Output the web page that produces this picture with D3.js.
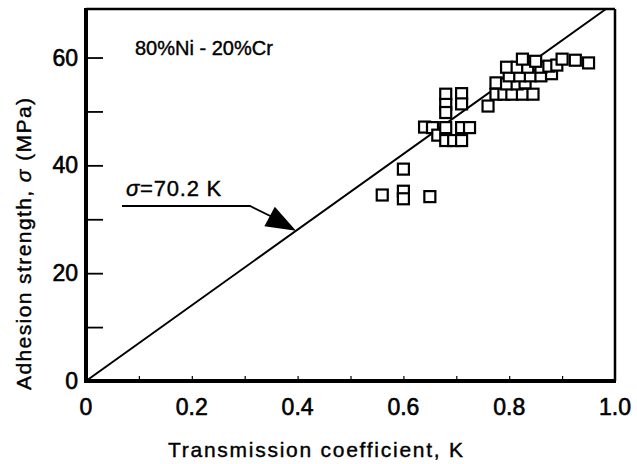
<!DOCTYPE html>
<html>
<head>
<meta charset="utf-8">
<script src="https://cdn.jsdelivr.net/npm/d3@7/dist/d3.min.js"></script>
<style>
  body { margin: 0; background: #fff; }
  text { font-family: "Liberation Sans", Arial, sans-serif; fill: #000; }
</style>
</head>
<body>
<div id="chart"></div>
<script>
// transmission coefficient K for each measured point
var kValues = [
    0.56, 0.60, 0.60, 0.60, 0.65,
    0.64, 0.655, 0.665, 0.68, 0.68, 0.68, 0.68, 0.68, 0.695, 0.71, 0.71, 0.71, 0.725, 0.71,
    0.76, 0.775, 0.79, 0.805, 0.825, 0.845, 0.775, 0.795, 0.815, 0.83,
    0.80, 0.82, 0.84, 0.86, 0.88, 0.795, 0.815, 0.835, 0.86, 0.875, 0.89,
    0.825, 0.85, 0.90, 0.925, 0.95
];
// adhesion strength sigma (MPa)
var sigmaValues = [
    34.5, 39.3, 35.2, 33.8, 34.2,
    47.1, 47.0, 45.6, 53.2, 51.3, 49.8, 47.0, 44.6, 44.6, 53.3, 51.4, 47.0, 47.0, 44.6,
    51.0, 53.2, 53.2, 53.2, 53.2, 53.2, 55.3, 55.1, 55.1, 55.3,
    56.6, 56.6, 56.6, 56.6, 57.0, 58.2, 58.2, 58.2, 58.2, 58.4, 58.6,
    59.7, 59.3, 59.7, 59.5, 59.0
];
var slope = 70.2;
var xTicks = [0, 0.2, 0.4, 0.6, 0.8, 1.0];
var xMinor = [0.1, 0.3, 0.5, 0.7, 0.9];
var yTicks = [0, 20, 40, 60];
var yMinor = [10, 30, 50];

var width = 637, height = 464;
var margin = {top: 9, right: 22, bottom: 83, left: 86};

var x = d3.scaleLinear().domain([0, 1]).range([margin.left, width - margin.right]);
var y = d3.scaleLinear().domain([0, 69]).range([height - margin.bottom, margin.top]);

var svg = d3.select("#chart").append("svg")
    .attr("width", width)
    .attr("height", height);

// frame
svg.append("line").attr("x1", x(0)).attr("x2", x(1)).attr("y1", y(69)).attr("y2", y(69))
    .attr("stroke", "#000").attr("stroke-width", 2.5);
svg.append("line").attr("x1", x(1)).attr("x2", x(1)).attr("y1", y(69)).attr("y2", y(0))
    .attr("stroke", "#000").attr("stroke-width", 2.5);

// y axis, ticks pointing inward
var yAxis = d3.axisRight(y).tickValues(yTicks.concat(yMinor)).tickSize(17).tickFormat("");
svg.append("g").attr("transform", "translate(" + x(0) + ",0)").call(yAxis)
    .call(function(g) { g.select(".domain").remove(); })
    .selectAll("line").attr("stroke-width", 1.8);

svg.selectAll(".ylab").data(yTicks).enter().append("text")
    .attr("x", x(0) - 8)
    .attr("y", function(d) { return y(d) + 8; })
    .attr("text-anchor", "end")
    .style("font-size", "23px")
    .style("stroke", "#000").style("stroke-width", 0.6)
    .text(function(d) { return d; });

// x axis minor ticks
var xAxis = d3.axisTop(x).tickValues(xTicks.slice(1, 5).concat(xMinor)).tickSize(5).tickFormat("");
svg.append("g").attr("transform", "translate(0," + y(0) + ")").call(xAxis)
    .call(function(g) { g.select(".domain").remove(); })
    .selectAll("line").attr("stroke-width", 1.2);

svg.selectAll(".xlab").data(xTicks).enter().append("text")
    .attr("x", function(d) { return x(d); })
    .attr("y", 415)
    .attr("text-anchor", "middle")
    .style("font-size", "23px")
    .style("stroke", "#000").style("stroke-width", 0.6)
    .text(function(d) { return d === 0 ? "0" : d.toFixed(1); });

// thick axis lines
svg.append("line").attr("x1", x(0)).attr("x2", x(1) + 1).attr("y1", y(0)).attr("y2", y(0))
    .attr("stroke", "#000").attr("stroke-width", 4);
svg.append("line").attr("x1", x(0)).attr("x2", x(0)).attr("y1", y(69) - 1).attr("y2", y(0) + 2)
    .attr("stroke", "#000").attr("stroke-width", 4);

// fitted line sigma = 70.2 K
var kEnd = 69 / slope;
svg.append("line")
    .attr("x1", x(0)).attr("y1", y(0))
    .attr("x2", x(kEnd)).attr("y2", y(slope * kEnd))
    .attr("stroke", "#000").attr("stroke-width", 2);

// data points
var points = kValues.map(function(k, i) { return {k: k, s: sigmaValues[i]}; });
var sz = 11;
svg.selectAll(".pt").data(points).enter().append("rect")
    .attr("x", function(d) { return x(d.k) - sz / 2; })
    .attr("y", function(d) { return y(d.s) - sz / 2; })
    .attr("width", sz).attr("height", sz)
    .attr("fill", "#fff")
    .attr("stroke", "#000").attr("stroke-width", 2.2);

// annotation
svg.append("text")
    .attr("x", 135).attr("y", 55)
    .style("font-size", "20px")
    .style("stroke", "#000").style("stroke-width", 0.4)
    .text("80%Ni - 20%Cr");

var lbl = svg.append("text")
    .attr("x", 126).attr("y", 196)
    .style("font-size", "22px")
    .style("stroke", "#000").style("stroke-width", 0.4);
lbl.append("tspan").style("font-style", "italic").text("σ");
lbl.append("tspan").attr("x", 140).style("letter-spacing", "0.8px").text("=70.2 K");

var tipK = 0.397;
var tip = [x(tipK), y(slope * tipK)];
var elbow = [250, 206];
svg.append("polyline")
    .attr("points", [[122, 206], elbow, [tip[0] - 8, tip[1] - 6]].join(" "))
    .attr("fill", "none").attr("stroke", "#000").attr("stroke-width", 1.8);
var ang = Math.atan2(tip[1] - elbow[1], tip[0] - elbow[0]);
var len = 30, hw = 11;
var bx = tip[0] - len * Math.cos(ang), by = tip[1] - len * Math.sin(ang);
svg.append("polygon")
    .attr("points", [
        tip,
        [bx + hw * Math.sin(ang), by - hw * Math.cos(ang)],
        [bx - hw * Math.sin(ang), by + hw * Math.cos(ang)]
    ].join(" "))
    .attr("fill", "#000");

// axis titles
svg.append("text")
    .attr("x", 168).attr("y", 457)
    .attr("textLength", 295)
    .style("font-size", "21px")
    .style("stroke", "#000").style("stroke-width", 0.4)
    .text("Transmission coefficient,  K");

var yt = svg.append("text")
    .attr("transform", "translate(31,390) rotate(-90)")
    .attr("textLength", 292)
    .style("font-size", "21px")
    .style("stroke", "#000").style("stroke-width", 0.4);
yt.append("tspan").text("Adhesion strength, ");
yt.append("tspan").style("font-style", "italic").text("σ");
yt.append("tspan").text("  (MPa)");
</script>
</body>
</html>
